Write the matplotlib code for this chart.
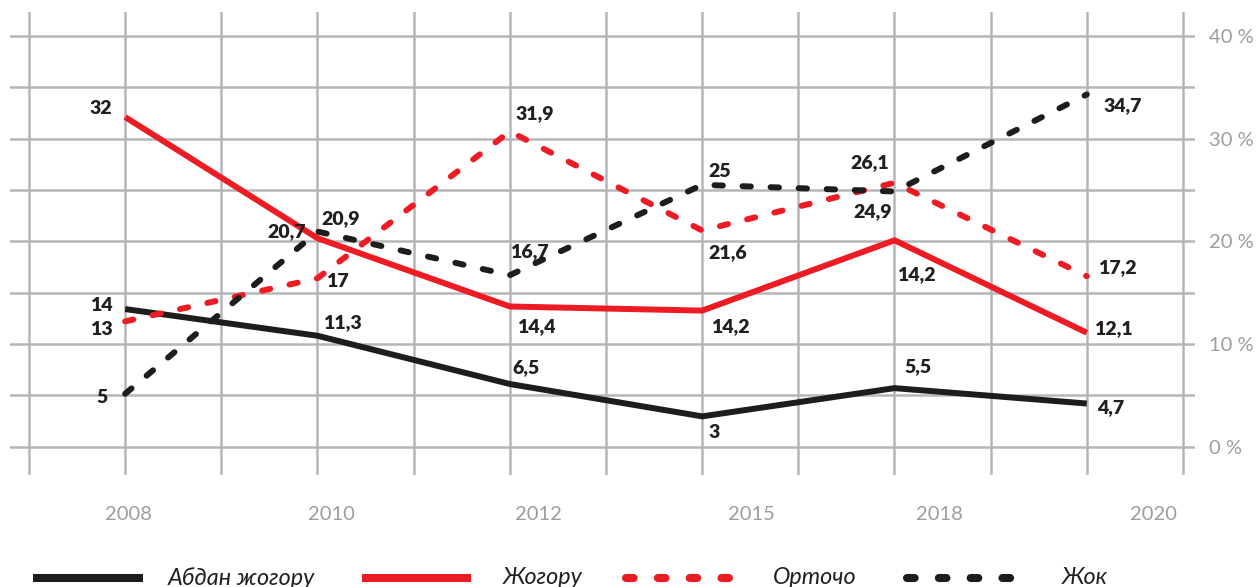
import matplotlib
matplotlib.use('Agg')
import matplotlib.pyplot as plt
from matplotlib.lines import Line2D

# ---------------- data ----------------
years = ['2008', '2010', '2012', '2015', '2018', '2020']
x_slots = [1, 3, 5, 7, 9, 11]                     # data columns on the 12-column grid
year_label_slots = [1.03, 3.14, 5.30, 7.51, 9.47, 11.69]

series_names = ['Абдан жогору', 'Жогору', 'Орточо', 'Жок']

abdan = [13.4, 10.8, 6.1, 2.95, 5.7, 4.2]
abdan_lbl = ['14', '11,3', '6,5', '3', '5,5', '4,7']

jogoru = [32.1, 20.3, 13.65, 13.25, 20.1, 11.1]
jogoru_lbl = ['32', '20,7', '14,4', '14,2', '14,2', '12,1']

ortocho = [12.2, 16.4, 30.7, 21.05, 25.7, 16.6]
ortocho_lbl = ['13', '17', '31,9', '21,6', '26,1', '17,2']

jok = [5.15, 20.95, 16.7, 25.5, 24.85, 34.3]
jok_lbl = ['5', '20,9', '16,7', '25', '24,9', '34,7']

y_ticks = [0, 10, 20, 30, 40]
y_tick_labels = ['0 %', '10 %', '20 %', '30 %', '40 %']

# ---------------- style / layout ----------------
FONT = ['Lato', 'Open Sans', 'DejaVu Sans']
plt.rcParams['font.family'] = FONT
RED = '#ed1c24'
BLACK = '#1d1d1b'
LBL = '#231f20'
GRID = '#b6b6ba'
TICK = '#9d9d9d'

# label offsets (pixels) from each point
abdan_off = [(-24, 4), (25, 13), (16, 16), (12, -16), (23, 22), (24, -4)]
jogoru_off = [(-24, 9), (-31, 7), (26, -20), (28, -16), (22, -34), (27, 4)]
ortocho_off = [(-24, -8), (20, -3), (25, 18), (26, -22), (-25, 20), (31, 9)]
jok_off = [(-23, -4), (23, 13), (20, 24), (18, 13), (-22, -20), (36, -11)]

W, H = 1260, 587
fig = plt.figure(figsize=(W / 100, H / 100), dpi=100)
ax = fig.add_axes([10 / W, 112 / H, 1185 / W, 463 / H])
ax.set_xlim(-0.1976, 12.125)
ax.set_ylim(-2.76, 42.33)

for s in ax.spines.values():
    s.set_visible(False)

ax.set_xticks(year_label_slots)
ax.set_xticklabels(years)
ax.set_xticks(range(0, 13), minor=True)
ax.set_yticks(y_ticks)
ax.set_yticklabels(y_tick_labels)
ax.set_yticks(range(0, 45, 5), minor=True)
ax.yaxis.tick_right()
ax.tick_params(which='both', length=0)
ax.tick_params(axis='x', pad=22, labelsize=14.5, labelcolor=TICK)
ax.tick_params(axis='y', pad=10, labelsize=14.5, labelcolor=TICK)
ax.grid(False)
ax.xaxis.grid(True, which='minor', color=GRID, lw=1.8)
ax.yaxis.grid(True, which='both', color=GRID, lw=1.8)
ax.set_axisbelow(True)

LW = 4.3
DASH = (1.4, 3.3)
ax.plot(x_slots, abdan, color=BLACK, lw=LW, solid_capstyle='butt', zorder=3)
ax.plot(x_slots, jogoru, color=RED, lw=LW, solid_capstyle='butt', zorder=4)
ax.plot(x_slots, ortocho, color=RED, lw=LW, dashes=DASH, dash_capstyle='round', zorder=5)
ax.plot(x_slots, jok, color=BLACK, lw=LW, dashes=DASH, dash_capstyle='round', zorder=6)

for vals, lbls, offs in [(abdan, abdan_lbl, abdan_off), (jogoru, jogoru_lbl, jogoru_off),
                         (ortocho, ortocho_lbl, ortocho_off), (jok, jok_lbl, jok_off)]:
    for xs, v, t, o in zip(x_slots, vals, lbls, offs):
        ax.annotate(t, (xs, v), xytext=o, textcoords='offset pixels', ha='center', va='center',
                    fontsize=14, fontweight='heavy', color=LBL, zorder=10)

# ---------------- legend (drawn in figure pixels) ----------------
leg_y = (H - 578) / H
leg_items = [
    (series_names[0], BLACK, None, 33, 143, 168),
    (series_names[1], RED, None, 362, 471, 503),
    (series_names[2], RED, (0.95, 3.0), 626, 729, 773),
    (series_names[3], BLACK, (0.95, 3.0), 907, 1011, 1062),
]
for name, col, dash, x0, x1, tx in leg_items:
    kw = dict(color=col, lw=5.8, transform=fig.transFigure)
    if dash is None:
        kw['solid_capstyle'] = 'butt'
    else:
        kw['dashes'] = dash
        kw['dash_capstyle'] = 'round'
    fig.add_artist(Line2D([x0 / W, x1 / W], [leg_y, leg_y], **kw))
    fig.text(tx / W, leg_y, name, ha='left', va='center', style='italic',
             fontsize=16.8, color=LBL)

fig.savefig('out.png', dpi=100)
